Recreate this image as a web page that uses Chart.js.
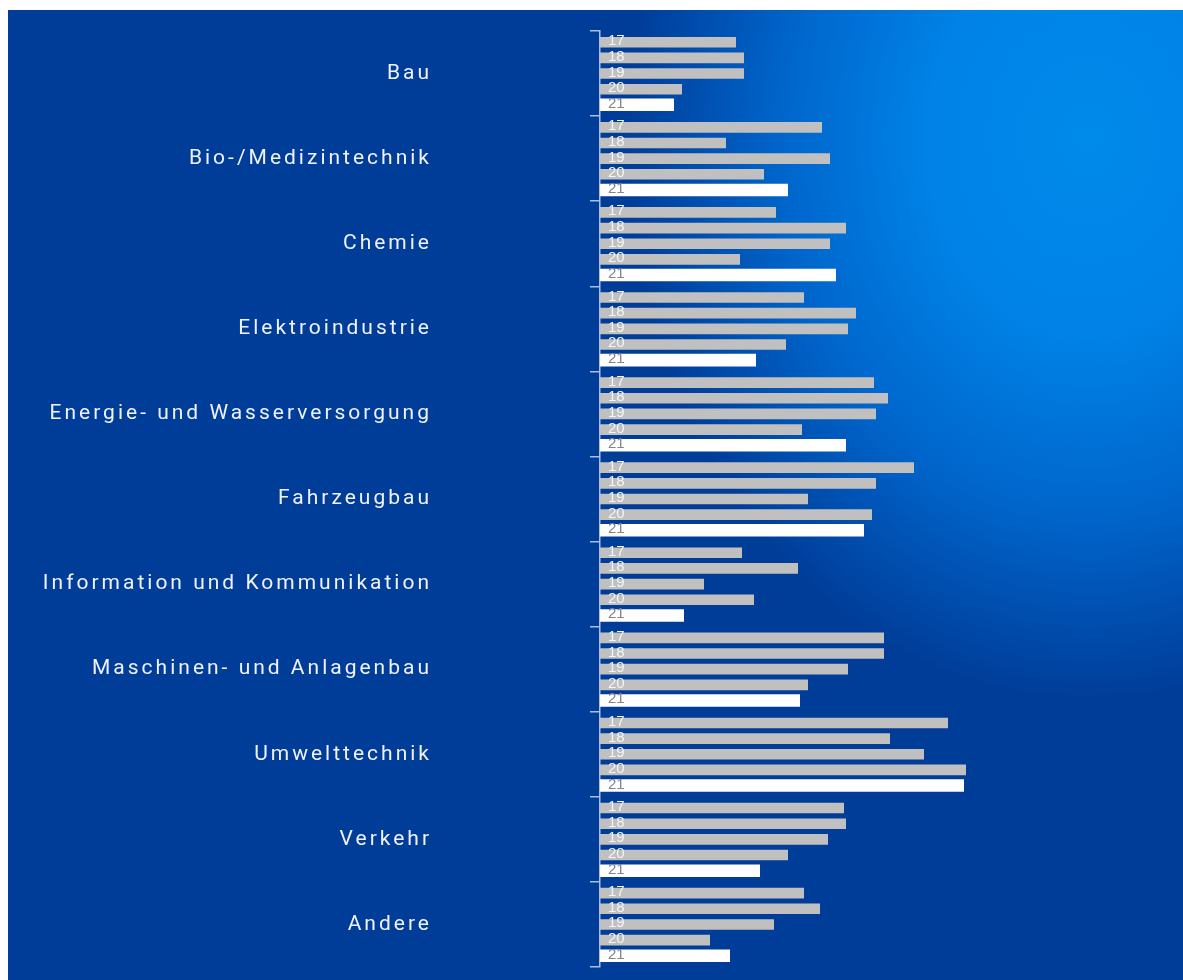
<!DOCTYPE html>
<html>
<head>
<meta charset="utf-8">
<script src="https://cdn.jsdelivr.net/npm/chart.js@4"></script>
<style>
  html, body { margin: 0; padding: 0; background: #ffffff; }
  #wrap {
    position: absolute;
    left: 8px;
    top: 10px;
    width: 1175px;
    height: 970px;
    background:
      radial-gradient(ellipse 460px 560px at 1080px 130px, #008aea 0%, #0082e6 35%, #0066cc 66%, rgba(0, 61, 153, 0) 100%),
      #003d99;
  }
  canvas { display: block; }
</style>
</head>
<body>
<div id="wrap"><canvas id="branchenChart" width="1175" height="970"></canvas></div>
<script>
const categories = [
    'Bau',
    'Bio-/Medizintechnik',
    'Chemie',
    'Elektroindustrie',
    'Energie- und Wasserversorgung',
    'Fahrzeugbau',
    'Information und Kommunikation',
    'Maschinen- und Anlagenbau',
    'Umwelttechnik',
    'Verkehr',
    'Andere'
];
const years = ['17', '18', '19', '20', '21'];

// values per year, one entry per category
const values17 = [68, 111, 88, 102, 137, 157, 71, 142, 174, 122, 102];
const values18 = [72, 63, 123, 128, 144, 138, 99, 142, 145, 123, 110];
const values19 = [72, 115, 115, 124, 138, 104, 52, 124, 162, 114, 87];
const values20 = [41, 82, 70, 93, 101, 136, 77, 104, 183, 94, 55];
const values21 = [37, 94, 118, 78, 123, 132, 42, 100, 182, 80, 65];

const allValues = [values17, values18, values19, values20, values21];

const grayBar = '#c0c0c0';
const whiteBar = '#ffffff';
const axisColor = 'rgba(190, 205, 232, 0.9)';

// spaced-out category labels
const spacing = {
    id: 'spacing',
    beforeDraw(chart) {
        chart.ctx.letterSpacing = '3px';
    },
    afterDraw(chart) {
        chart.ctx.letterSpacing = '0px';
    }
};

// Year labels drawn inside each bar
const yearLabels = {
    id: 'yearLabels',
    afterDatasetsDraw(chart) {
        const ctx = chart.ctx;
        ctx.save();
        ctx.letterSpacing = '0px';
        ctx.font = '15px "Liberation Sans", Arial, sans-serif';
        ctx.textAlign = 'left';
        ctx.textBaseline = 'alphabetic';
        chart.data.datasets.forEach((ds, i) => {
            const meta = chart.getDatasetMeta(i);
            ctx.fillStyle = i === 4 ? '#858585' : '#f4f4f4';
            meta.data.forEach(bar => {
                ctx.fillText(ds.label, bar.base + 8, bar.y + 3);
            });
        });
        ctx.restore();
    }
};

const ctx = document.getElementById('branchenChart').getContext('2d');
const branchenChart = new Chart(ctx, {
    type: 'bar',
    data: {
        labels: categories,
        datasets: allValues.map((vals, i) => ({
            label: years[i],
            data: vals,
            backgroundColor: i === 4 ? whiteBar : grayBar,
            borderWidth: 0,
            barPercentage: i === 4 ? 0.8 : 0.68,
            categoryPercentage: 0.92
        }))
    },
    options: {
        indexAxis: 'y',
        responsive: false,
        animation: false,
        layout: {
            padding: { top: 21, bottom: 13, left: 0, right: 0 }
        },
        plugins: {
            legend: { display: false },
            tooltip: { enabled: false }
        },
        scales: {
            x: {
                display: false,
                min: 0,
                max: 291.5
            },
            y: {
                afterFit(scale) {
                    scale.width = 592;
                    scale.paddingTop = 0;
                    scale.paddingBottom = 0;
                },
                border: {
                    display: true,
                    color: axisColor,
                    width: 1.5
                },
                grid: {
                    display: true,
                    offset: true,
                    drawOnChartArea: false,
                    drawTicks: true,
                    tickLength: 10,
                    color: axisColor,
                    lineWidth: 1.5
                },
                ticks: {
                    padding: 158,
                    color: '#f0f2f8',
                    font: {
                        family: 'Roboto, "DejaVu Sans", sans-serif',
                        size: 21,
                        weight: 400
                    }
                }
            }
        }
    },
    plugins: [spacing, yearLabels]
});
</script>
</body>
</html>
